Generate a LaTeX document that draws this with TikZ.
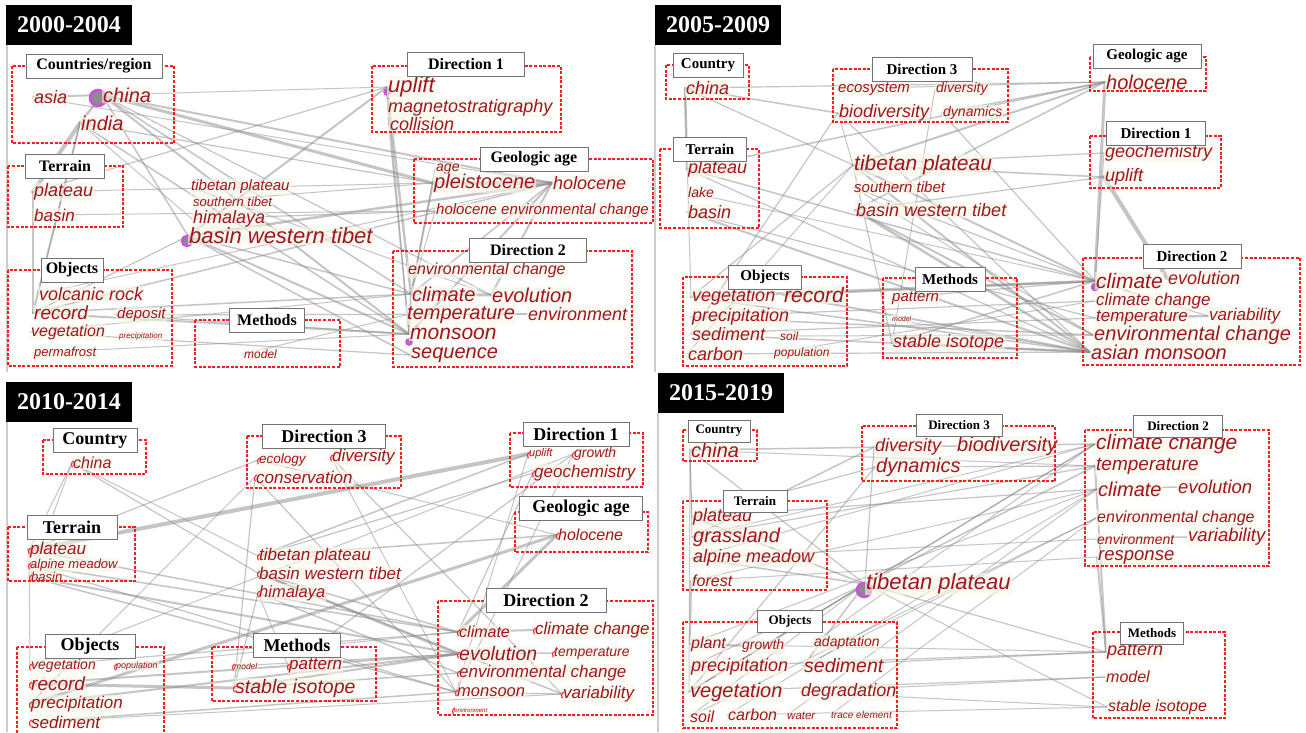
\documentclass[tikz,border=0pt]{standalone}
\usepackage{fontspec}
\setmainfont{Liberation Serif}
\setsansfont{Liberation Sans}
\usepackage{xcolor}
\usetikzlibrary{backgrounds}
\definecolor{kwred}{RGB}{160,22,32}
\definecolor{kwbg}{RGB}{248,248,230}
\definecolor{boxred}{RGB}{250,30,30}
\definecolor{hubpink}{RGB}{205,80,220}
\tikzset{
  kw/.style={anchor=west, inner sep=1pt, text=kwred, fill=kwbg, fill opacity=.6, text opacity=1,
    font=\sffamily\itshape\fontsize{#1}{#1}\selectfont},
  hdr/.style={draw=black!55, fill=white, line width=.8, inner sep=0pt, minimum height=24,
    font=\bfseries\fontsize{#1}{#1}\selectfont},
  yr/.style={fill=black, text=white, inner sep=0pt, minimum width=126, minimum height=40,
    font=\bfseries\fontsize{24}{24}\selectfont},
  grp/.style={draw=boxred, line width=1.3, dash pattern=on 3pt off 1.6pt},
  link/.style={draw=black!45, line width=#1, opacity=.5, line cap=round},
  hub/.style={draw=hubpink, line width=2.5, fill=black!45},
  frame/.style={draw=black!20, line width=1.2}
}
\begin{document}
\begin{tikzpicture}[x=1pt, y=-1pt]
    \useasboundingbox (0,0) rectangle (1306,732);

    % Panel 1: 2000-2004
    \draw[frame] (7,45) -- (7,372);
    \node[yr] (yra) at (69,25) {2000-2004};
    \node[kw=18] (aasia) at (33,97) {asia};
    \node[kw=20] (achina) at (102,95) {china};
    \node[kw=20] (aindia) at (80,123) {india};
    \node[kw=18] (aplateau) at (33,192) {plateau};
    \node[kw=17] (abasin) at (33,215) {basin};
    \node[kw=15] (atibet) at (190,187) {tibetan plateau};
    \node[kw=13] (asouth) at (192,202) {southern tibet};
    \node[kw=18] (ahimalaya) at (192,219) {himalaya};
    \node[kw=22] (abasinwt) at (188,236) {basin western tibet};
    \node[kw=22] (auplift) at (387,87) {uplift};
    \node[kw=18] (amagneto) at (387,108) {magnetostratigraphy};
    \node[kw=18] (acollision) at (389,124) {collision};
    \node[kw=14] (aage) at (435,169) {age};
    \node[kw=20] (apleist) at (433,183) {pleistocene};
    \node[kw=18] (aholo) at (552,183) {holocene};
    \node[kw=15] (aholoenv) at (435,211) {holocene environmental change};
    \node[kw=16] (aenvchg) at (407,270) {environmental change};
    \node[kw=20] (aclimate) at (411,294) {climate};
    \node[kw=20] (aevol) at (491,295) {evolution};
    \node[kw=20] (atemp) at (406,315) {temperature};
    \node[kw=18] (aenviron) at (527,314) {environment};
    \node[kw=21] (amonsoon) at (409,334) {monsoon};
    \node[kw=20] (asequence) at (410,355) {sequence};
    \node[kw=18] (avolcanic) at (38,294) {volcanic rock};
    \node[kw=19] (arecord) at (33,313) {record};
    \node[kw=15] (adeposit) at (116,315) {deposit};
    \node[kw=16] (aveg) at (30,332) {vegetation};
    \node[kw=8] (aprecip) at (118,336) {precipitation};
    \node[kw=13] (aperma) at (33,353) {permafrost};
    \node[kw=12] (amodel) at (243,354) {model};
    \draw[grp] (12,66) rectangle (174,143);
    \draw[grp] (8,166) rectangle (123,227);
    \draw[grp] (8,270) rectangle (172,366);
    \draw[grp] (195,320) rectangle (340,367);
    \draw[grp] (372,66) rectangle (561,132);
    \draw[grp] (414,159) rectangle (653,223);
    \draw[grp] (393,251) rectangle (632,367);
    \node[hdr=16, minimum width=136] (ahcountry) at (94,66) {Countries/region};
    \node[hdr=16, minimum width=79] (ahterrain) at (65,166) {Terrain};
    \node[hdr=16, minimum width=62] (ahobjects) at (72,270) {Objects};
    \node[hdr=16, minimum width=75] (ahmethods) at (267,320) {Methods};
    \node[hdr=16, minimum width=117] (ahdir1) at (466,64) {Direction 1};
    \node[hdr=16, minimum width=108] (ahage) at (534,159) {Geologic age};
    \node[hdr=16, minimum width=117] (ahdir2) at (528,250) {Direction 2};

    % Panel 2: 2005-2009
    \draw[frame] (655,45) -- (655,372);
    \node[yr] (yrb) at (718,25) {2005-2009};
    \node[kw=18] (bchina) at (685,88) {china};
    \node[kw=15] (becosys) at (837,89) {ecosystem};
    \node[kw=14] (bdiversity) at (935,89) {diversity};
    \node[kw=18] (bbiodiv) at (838,113) {biodiversity};
    \node[kw=14] (bdynamics) at (942,113) {dynamics};
    \node[kw=18] (bplateau) at (687,169) {plateau};
    \node[kw=14] (blake) at (687,192) {lake};
    \node[kw=18] (bbasin) at (687,212) {basin};
    \node[kw=21] (btibet) at (853,165) {tibetan plateau};
    \node[kw=15] (bsouth) at (853,187) {southern tibet};
    \node[kw=18] (bbasinwt) at (855,210) {basin western tibet};
    \node[kw=20] (bholo) at (1105,82) {holocene};
    \node[kw=18] (bgeochem) at (1104,153) {geochemistry};
    \node[kw=18] (buplift) at (1104,177) {uplift};
    \node[kw=21] (bclimate) at (1095,281) {climate};
    \node[kw=18] (bevol) at (1167,278) {evolution};
    \node[kw=17] (bclimchg) at (1095,301) {climate change};
    \node[kw=17] (btemp) at (1095,318) {temperature};
    \node[kw=17] (bvariab) at (1208,316) {variability};
    \node[kw=20] (benvchg) at (1093,335) {environmental change};
    \node[kw=20] (bmonsoon) at (1090,352) {asian monsoon};
    \node[kw=18] (bveg) at (691,297) {vegetation};
    \node[kw=21] (brecord) at (783,295) {record};
    \node[kw=18] (bprecip) at (691,317) {precipitation};
    \node[kw=18] (bsediment) at (691,334) {sediment};
    \node[kw=12] (bsoil) at (779,336) {soil};
    \node[kw=18] (bcarbon) at (687,354) {carbon};
    \node[kw=12] (bpop) at (773,353) {population};
    \node[kw=15] (bpattern) at (891,298) {pattern};
    \node[kw=7] (bmodel) at (891,319) {model};
    \node[kw=18] (bstable) at (892,343) {stable isotope};
    \draw[grp] (666,65) rectangle (749,99);
    \draw[grp] (833,69) rectangle (1008,122);
    \draw[grp] (660,149) rectangle (759,228);
    \draw[grp] (1090,57) rectangle (1206,91);
    \draw[grp] (1090,136) rectangle (1221,188);
    \draw[grp] (1083,258) rectangle (1300,365);
    \draw[grp] (683,277) rectangle (847,366);
    \draw[grp] (883,278) rectangle (1017,358);
    \node[hdr=15, minimum width=70] (bhcountry) at (708,65) {Country};
    \node[hdr=15, minimum width=100] (bhdir3) at (922,69) {Direction 3};
    \node[hdr=15, minimum width=73] (bhterrain) at (710,149) {Terrain};
    \node[hdr=15, minimum width=108] (bhage) at (1147,56) {Geologic age};
    \node[hdr=15, minimum width=99] (bhdir1) at (1156,133) {Direction 1};
    \node[hdr=15, minimum width=98] (bhdir2) at (1192,256) {Direction 2};
    \node[hdr=15, minimum width=73] (bhobjects) at (765,277) {Objects};
    \node[hdr=15, minimum width=70] (bhmethods) at (950,279) {Methods};

    % Panel 3: 2010-2014
    \draw[frame] (7,422) -- (7,732);
    \node[yr] (yrc) at (69,402) {2010-2014};
    \node[kw=16] (cchina) at (72,463) {china};
    \node[kw=13.5] (cecology) at (258,460) {ecology};
    \node[kw=17] (cdiversity) at (331,457) {diversity};
    \node[kw=17] (cconserv) at (255,477) {conservation};
    \node[kw=17] (cplateau) at (29,550) {plateau};
    \node[kw=13] (calpine) at (29,565) {alpine meadow};
    \node[kw=13] (cbasin) at (30,577) {basin};
    \node[kw=17] (ctibet) at (258,556) {tibetan plateau};
    \node[kw=17] (cbasinwt) at (258,573) {basin western tibet};
    \node[kw=16.5] (chimalaya) at (258,593) {himalaya};
    \node[kw=11] (cuplift) at (528,454) {uplift};
    \node[kw=14] (cgrowth) at (573,454) {growth};
    \node[kw=17] (cgeochem) at (533,473) {geochemistry};
    \node[kw=16] (cholo) at (557,535) {holocene};
    \node[kw=16] (cclimate) at (458,632) {climate};
    \node[kw=17] (cclimchg) at (534,630) {climate change};
    \node[kw=19.5] (cevol) at (458,654) {evolution};
    \node[kw=14] (ctemp) at (553,653) {temperature};
    \node[kw=17] (cenvchg) at (458,673) {environmental change};
    \node[kw=16.5] (cmonsoon) at (456,692) {monsoon};
    \node[kw=17] (cvariab) at (562,694) {variability};
    \node[kw=6] (cenviron) at (453,710) {environment};
    \node[kw=14] (cveg) at (30,666) {vegetation};
    \node[kw=9] (cpop) at (115,666) {population};
    \node[kw=19] (crecord) at (30,684) {record};
    \node[kw=17] (cprecip) at (30,704) {precipitation};
    \node[kw=17] (csediment) at (30,722) {sediment};
    \node[kw=8.5] (cmodel) at (233,666) {model};
    \node[kw=17] (cpattern) at (288,666) {pattern};
    \node[kw=19.5] (cstable) at (234,688) {stable isotope};
    \draw[grp] (43,440) rectangle (146,474);
    \draw[grp] (247,436) rectangle (401,488);
    \draw[grp] (8,527) rectangle (135,581);
    \draw[grp] (510,433) rectangle (643,487);
    \draw[grp] (515,512) rectangle (648,552);
    \draw[grp] (438,601) rectangle (653,715);
    \draw[grp] (17,647) rectangle (164,745);
    \draw[grp] (212,647) rectangle (376,701);
    \node[hdr=18, minimum width=84] (chcountry) at (95,440) {Country};
    \node[hdr=18, minimum width=123] (chdir3) at (324,436) {Direction 3};
    \node[hdr=18, minimum width=90] (chterrain) at (72,527) {Terrain};
    \node[hdr=18, minimum width=106] (chdir1) at (576,434) {Direction 1};
    \node[hdr=18, minimum width=123] (chage) at (581,508) {Geologic age};
    \node[hdr=18, minimum width=120] (chdir2) at (546,600) {Direction 2};
    \node[hdr=18, minimum width=90] (chobjects) at (90,646) {Objects};
    \node[hdr=18, minimum width=87] (chmethods) at (297,645) {Methods};

    % Panel 4: 2015-2019
    \draw[frame] (658,413) -- (658,732);
    \node[yr] (yrd) at (721,393) {2015-2019};
    \node[kw=20] (dchina) at (690,450) {china};
    \node[kw=18] (ddiversity) at (874,447) {diversity};
    \node[kw=20] (dbiodiv) at (956,446) {biodiversity};
    \node[kw=20] (ddynamics) at (875,467) {dynamics};
    \node[kw=18] (dplateau) at (692,517) {plateau};
    \node[kw=20] (dgrass) at (692,537) {grassland};
    \node[kw=18] (dalpine) at (692,558) {alpine meadow};
    \node[kw=16] (dforest) at (691,581) {forest};
    \node[kw=22] (dtibet) at (865,584) {tibetan plateau};
    \node[kw=16] (dplant) at (690,644) {plant};
    \node[kw=14] (dgrowth) at (741,646) {growth};
    \node[kw=14] (dadapt) at (813,643) {adaptation};
    \node[kw=18] (dprecip) at (690,667) {precipitation};
    \node[kw=19.5] (dsediment) at (803,666) {sediment};
    \node[kw=20] (dveg) at (689,692) {vegetation};
    \node[kw=18] (ddegrad) at (800,692) {degradation};
    \node[kw=16] (dsoil) at (689,717) {soil};
    \node[kw=16] (dcarbon) at (727,715) {carbon};
    \node[kw=11.5] (dwater) at (786,716) {water};
    \node[kw=10] (dtrace) at (830,715) {trace element};
    \node[kw=21] (dclimchg) at (1095,444) {climate change};
    \node[kw=19] (dtemp) at (1095,466) {temperature};
    \node[kw=20] (dclimate) at (1097,489) {climate};
    \node[kw=18.5] (devol) at (1177,487) {evolution};
    \node[kw=16] (denvchg) at (1096,518) {environmental change};
    \node[kw=14] (denviron) at (1096,539) {environment};
    \node[kw=18.5] (dvariab) at (1187,537) {variability};
    \node[kw=18.5] (dresponse) at (1097,557) {response};
    \node[kw=18] (dpattern) at (1106,652) {pattern};
    \node[kw=16] (dmodel) at (1105,677) {model};
    \node[kw=16] (dstable) at (1107,707) {stable isotope};
    \draw[grp] (683,430) rectangle (757,461);
    \draw[grp] (862,426) rectangle (1055,481);
    \draw[grp] (683,501) rectangle (827,590);
    \draw[grp] (683,622) rectangle (897,728);
    \draw[grp] (1085,430) rectangle (1269,566);
    \draw[grp] (1093,632) rectangle (1225,718);
    \node[hdr=13, minimum width=62, minimum height=22] (dhcountry) at (719,431) {Country};
    \node[hdr=13, minimum width=86, minimum height=22] (dhdir3) at (959,425) {Direction 3};
    \node[hdr=13, minimum width=64, minimum height=22] (dhterrain) at (755,501) {Terrain};
    \node[hdr=13, minimum width=65, minimum height=22] (dhobjects) at (790,621) {Objects};
    \node[hdr=13, minimum width=89, minimum height=22] (dhdir2) at (1178,426) {Direction 2};
    \node[hdr=13, minimum width=63, minimum height=22] (dhmethods) at (1152,633) {Methods};

    % co-occurrence links, behind the labels
    \begin{scope}[on background layer]
    \fill[white] (0,0) rectangle (1306,732);
    \foreach \a/\b/\w in {achina/aasia/2, achina/aindia/2.5, achina/abasinwt/1.5, achina/aholo/2,
        achina/apleist/3, achina/aclimate/1.5, achina/amonsoon/2, achina/aevol/1.2, achina/auplift/1,
        aindia/aplateau/4, aindia/avolcanic/1, aindia/arecord/2, aindia/amonsoon/1.5, aindia/ahimalaya/1,
        aindia/apleist/1.2, aasia/aholo/1, aplateau/arecord/2, aplateau/auplift/1.2, aplateau/apleist/1,
        abasin/aholoenv/1, abasinwt/auplift/2, abasinwt/aholo/2.5, abasinwt/aclimate/1.5,
        abasinwt/amonsoon/2, abasinwt/asequence/1.5, abasinwt/arecord/1.2, auplift/acollision/2,
        auplift/amagneto/1, auplift/aclimate/2.5, auplift/amonsoon/1.2, apleist/aholo/4,
        apleist/aclimate/2, aholo/aclimate/1.5, aholo/amonsoon/2, aholoenv/aclimate/1, atibet/aevol/1,
        asouth/apleist/1, ahimalaya/aholoenv/1.2, arecord/aclimate/1.5, arecord/amonsoon/2,
        arecord/aholo/1.5, aveg/aclimate/1, adeposit/aenviron/1.2, aperma/amonsoon/1, amodel/atemp/1,
        aclimate/aevol/3, aclimate/amonsoon/2, atemp/aenviron/1.2, aevol/aholo/2, avolcanic/aholo/1,
        aveg/asequence/1.2, adeposit/amonsoon/1.2, aage/aclimate/1, acollision/amonsoon/1.5}
      \draw[link=\w] (\a.west) -- (\b.west);
    \foreach \a/\b/\w in {bchina/bplateau/2.5, bchina/btibet/1.2, bchina/bbiodiv/1.5, bchina/bholo/1.2,
        bchina/bveg/1, btibet/bholo/2, btibet/bgeochem/1.2, btibet/buplift/1.5, btibet/bclimate/2,
        btibet/bmonsoon/2, btibet/bstable/1.2, bsouth/bclimate/1.2, bsouth/benvchg/1, bbasinwt/bholo/1.5,
        bbasinwt/buplift/1.2, bbasinwt/benvchg/2, bbasinwt/bmonsoon/2.5, bholo/bclimate/3,
        buplift/bevol/4, bgeochem/bclimate/1, bplateau/bholo/1.5, bplateau/bclimate/1.5,
        bplateau/bmonsoon/1.2, bbasin/bmonsoon/2, bbasin/btemp/1.2, blake/bclimate/1, bveg/bclimate/2.5,
        bveg/bmonsoon/1.5, brecord/bclimate/2, brecord/bmonsoon/2, bprecip/benvchg/1.5,
        bsediment/bmonsoon/1.5, bcarbon/bmonsoon/1.2, bstable/bmonsoon/2.5, bstable/bclimate/1.5,
        bpattern/bclimate/1.2, bdiversity/bstable/1, bbiodiv/bmonsoon/1.2, becosys/bholo/1,
        bdynamics/bholo/1.5, bclimate/bvariab/1, btemp/bvariab/2.5, bsoil/benvchg/1, bpop/bclimchg/1,
        bmodel/bmonsoon/1, bbiodiv/bsediment/1.2, bbiodiv/btibet/1, bdynamics/bclimate/1.2,
        bveg/btibet/1.2, bcarbon/btibet/1, bprecip/bclimchg/1.2, bsediment/btemp/1.2}
      \draw[link=\w] (\a.west) -- (\b.west);
    \foreach \a/\b/\w in {cchina/cplateau/1, cchina/cbasinwt/1.2, cchina/cbasin/1, cchina/ctibet/1,
        cplateau/cuplift/4, cplateau/cecology/1.2, cplateau/cclimate/1.5, calpine/cclimate/1.5,
        calpine/cmonsoon/1.2, cbasin/cevol/2, cbasin/cmonsoon/1.5, cconserv/cmonsoon/1.2,
        cconserv/cstable/1.2, cconserv/cprecip/1, cdiversity/cvariab/1.2, cdiversity/cmonsoon/1,
        ctibet/cuplift/1.5, ctibet/cgeochem/1.2, ctibet/cholo/1.5, cbasinwt/cclimate/1.5,
        cbasinwt/cevol/2.5, cbasinwt/cvariab/1.5, chimalaya/cstable/1.2, chimalaya/cpattern/1,
        chimalaya/cenvchg/1.5, cveg/cclimate/1.2, crecord/cstable/3, crecord/cevol/2, cprecip/cevol/2,
        cprecip/cholo/3, csediment/cmonsoon/1.5, cstable/cevol/2, cpattern/cgrowth/1.2,
        cholo/cclimate/3, cgeochem/cclimate/1.2, cclimate/cclimchg/2, cevol/ctemp/1.5,
        cmonsoon/cvariab/1.2, cgrowth/cmonsoon/1, cmodel/cevol/1, cveg/cgrowth/1, cveg/cplateau/1,
        cuplift/cmonsoon/1, cecology/cholo/1, cpop/cclimate/1, cstable/cenvchg/1.5, csediment/cvariab/1}
      \draw[link=\w] (\a.west) -- (\b.west);
    \foreach \a/\b/\w in {dchina/dbiodiv/1.5, dbiodiv/dclimchg/1.5, dchina/dtibet/1.2, dchina/dplateau/1,
        dchina/dveg/1, dchina/dgrass/1, dchina/dtemp/1, ddiversity/dtibet/1.2, ddynamics/dveg/1.2,
        ddynamics/dtemp/1.2, dplateau/dtibet/1.5, dplateau/dclimate/1.2, dgrass/ddiversity/1.5,
        dgrass/dtemp/1.2, dalpine/dtibet/1.5, dforest/dclimate/1, dtibet/dclimchg/1.2, dtibet/dtemp/1.5,
        dtibet/dpattern/1.2, dtibet/dstable/1, dtibet/dveg/1.5, dtibet/dsediment/1.5, dplant/dclimate/1,
        dprecip/dpattern/1.2, dsediment/dpattern/1.2, dveg/dclimchg/1.2, dveg/dmodel/1.2,
        ddegrad/dmodel/1, ddegrad/dstable/1, dsoil/dtibet/1, dcarbon/dclimate/1, dtemp/dpattern/2,
        dclimate/devol/1.5, denviron/dvariab/1.5, dresponse/dpattern/2, dgrowth/dplant/1.5,
        dadapt/dclimchg/1, dforest/dplant/2, dwater/dclimate/1, dtrace/denvchg/1,
        dplateau/ddynamics/1.2, dalpine/dclimchg/1, dprecip/dtibet/1.2, dsediment/denvchg/1,
        dveg/dtibet/1, dplant/dpattern/1, dcarbon/dstable/1, dsoil/denvchg/1, dgrass/dclimchg/1,
        dalpine/denviron/1, dforest/dresponse/1}
      \draw[link=\w] (\a.west) -- (\b.west);

    % hub markers
    \draw[hub] ([xshift=-4pt,yshift=-3pt]achina.west) circle (8pt);
    \draw[hub] ([xshift=-1pt,yshift=-5pt]abasinwt.west) circle (5pt);
    \draw[hub, line width=1.5] ([yshift=-5pt]auplift.west) circle (3pt);
    \draw[hub, line width=1.5] ([yshift=-8pt]amonsoon.west) circle (3pt);
    \draw[hub, line width=1.5] ([yshift=-6pt]bclimate.west) circle (3.5pt);
    \draw[hub] ([xshift=-1pt,yshift=-6pt]dtibet.west) circle (7pt);
    \end{scope}

    % small red marks of the 2010-2014 network
    \foreach \n in {cchina, cecology, cdiversity, cconserv, cplateau, calpine, cbasin, ctibet, cbasinwt,
        chimalaya, cuplift, cgrowth, cgeochem, cholo, cclimate, cclimchg, cevol, ctemp, cenvchg,
        cmonsoon, cvariab, cenviron, cveg, cpop, crecord, cprecip, csediment, cmodel, cpattern, cstable}
      \draw[red!80, line width=1.2] ([xshift=2pt,yshift=2pt]\n.west) arc[start angle=110, end angle=220, radius=4pt];
\end{tikzpicture}
\end{document}
